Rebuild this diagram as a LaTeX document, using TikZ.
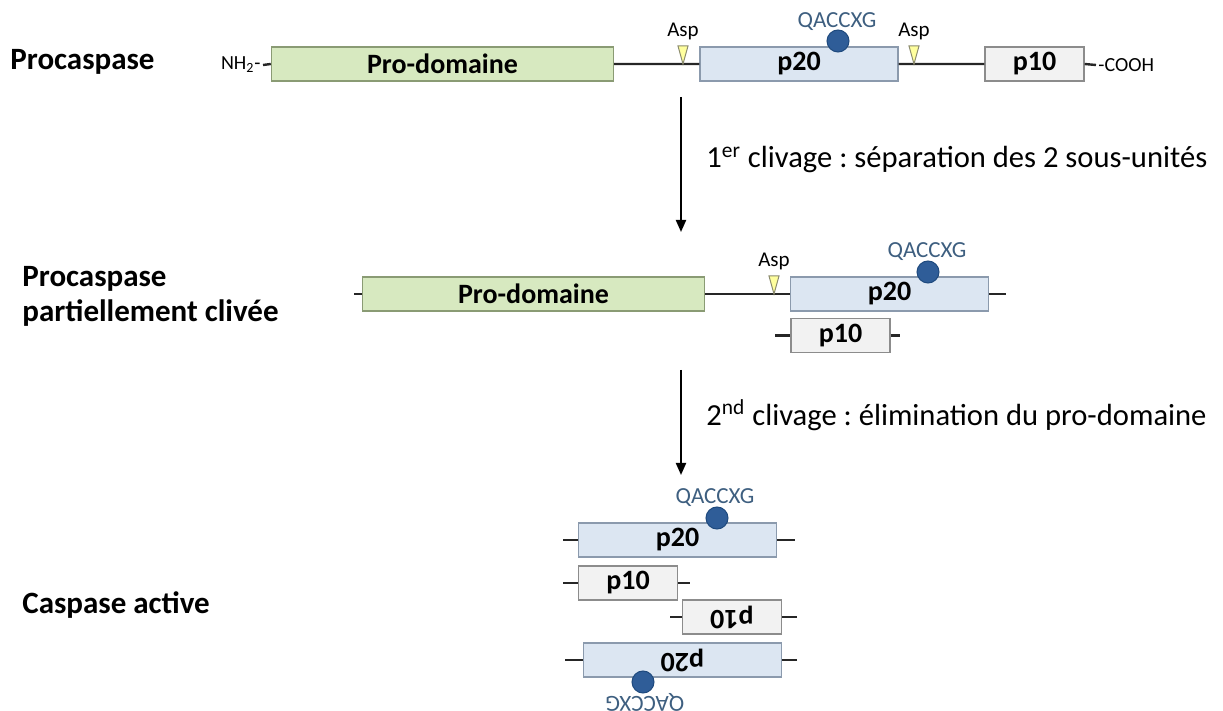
\documentclass[tikz,border=0pt]{standalone}
\usepackage{fontspec}
\setmainfont{Carlito}
\usetikzlibrary{arrows.meta,positioning}
\definecolor{ProGreen}{HTML}{D7E9C0}
\definecolor{ProEdge}{HTML}{8A9B74}
\definecolor{SubBlue}{HTML}{DCE6F2}
\definecolor{SubEdge}{HTML}{8B9AAD}
\definecolor{SubGray}{HTML}{F2F2F2}
\definecolor{GrayEdge}{HTML}{8C8C8C}
\definecolor{SiteBlue}{HTML}{2F5D98}
\definecolor{SiteEdge}{HTML}{1F4A7E}
\definecolor{SiteText}{HTML}{3E5F80}
\definecolor{AspYellow}{HTML}{FFFF9E}
\definecolor{AspEdge}{HTML}{8C8C6E}
\frenchspacing

\begin{document}
\begin{tikzpicture}[x=0.5pt,y=-0.5pt,
  heading/.style={font=\fontsize{15.5}{17.5}\selectfont\bfseries,align=left,inner sep=0pt},
  prodom/.style={draw=ProEdge,fill=ProGreen,line width=0.7pt,minimum width=171pt,minimum height=17pt,inner sep=0pt,font=\fontsize{14}{16}\selectfont\bfseries},
  sub20/.style={draw=SubEdge,fill=SubBlue,line width=0.7pt,minimum width=99pt,minimum height=17pt,inner sep=0pt,font=\fontsize{14}{16}\selectfont\bfseries},
  sub10/.style={draw=GrayEdge,fill=SubGray,line width=0.7pt,minimum width=49.5pt,minimum height=17pt,inner sep=0pt,font=\fontsize{14}{16}\selectfont\bfseries},
  small/.style={font=\fontsize{10}{12}\selectfont,inner sep=1pt},
  asplbl/.style={font=\fontsize{10.5}{12}\selectfont,inner sep=1pt},
  sitelbl/.style={font=\fontsize{11.5}{13}\selectfont,inner sep=1pt,text=SiteText},
  site/.style={circle,draw=SiteEdge,fill=SiteBlue,minimum size=11pt,inner sep=0pt,line width=0.5pt},
  chain/.style={line width=1.2pt,draw=black!85},
  arrow/.style={-{Triangle[length=6pt,width=5pt]},line width=1pt},
  cleave/.style={font=\fontsize{15.3}{17}\selectfont,anchor=west,inner sep=0pt},
  asp/.pic={
    \draw[fill=AspYellow,draw=AspEdge,line width=0.5pt] (-5,-18) -- (5,-18) -- (0,0) -- cycle;
    \node[asplbl] at (0,-33) {Asp};
  },
  dimer/.pic={
    \node[sub20] (-p20) at (-2.5,-60) {p20};
    \node[site] (-site) at (37,-82) {};
    \node[sitelbl] (-lbl) at (35,-102) {QACCXG};
    \node[sub10] (-p10) at (-52,-17) {p10};
    \coordinate (-a) at (-117,-60);
    \coordinate (-b) at (115,-60);
    \coordinate (-c) at (-117,-17);
    \coordinate (-d) at (10,-17);
    \draw[chain] (-a) -- (-p20.west) (-p20.east) -- (-b);
    \draw[chain] (-c) -- (-p10.west) (-p10.east) -- (-d);
  }
]
\useasboundingbox (0,0) rectangle (1223,711);

% procaspase
\node[heading,anchor=base west] (t1) at (10,70) {Procaspase};
\node[small,anchor=east] (nh2) at (263,65) {NH\textsubscript{2}-};
\node[prodom] (pd1) at (442.5,64) {Pro-domaine};
\node[sub20] (p20a) at (799,64) {p20};
\node[sub10] (p10a) at (1034.5,64) {p10};
\node[small,anchor=west] (cooh) at (1096,65) {-COOH};
\draw[chain] (nh2.east) -- (pd1.west) (pd1.east) -- (p20a.west) (p20a.east) -- (p10a.west) (p10a.east) -- (cooh.west);
\pic at (683,64) {asp};
\pic at (914,64) {asp};
\node[site] (s1) at (838,41) {};
\node[sitelbl] (q1) at (837,22) {QACCXG};

% first cleavage
\coordinate (c1a) at (681,97);
\coordinate (c1b) at (681,232);
\draw[arrow] (c1a) -- (c1b);
\node[cleave] (l1) at (706,160) {1\textsuperscript{er} clivage : séparation des 2 sous-unités};

% partially cleaved
\node[heading,anchor=west] (t2) at (22,296) {Procaspase\\partiellement clivée};
\coordinate (e2) at (354,294);
\node[prodom] (pd2) at (533.5,294) {Pro-domaine};
\node[sub20] (p20b) at (889.5,294) {p20};
\coordinate (f2) at (1006,294);
\draw[chain] (e2) -- (pd2.west) (pd2.east) -- (p20b.west) (p20b.east) -- (f2);
\pic at (774,294) {asp};
\node[site] (s2) at (928,272) {};
\node[sitelbl] (q2) at (927,252) {QACCXG};
\node[sub10] (p10b) at (840.5,335.5) {p10};
\coordinate (g2) at (775,335.5);
\coordinate (h2) at (900,335.5);
\draw[chain] (g2) -- (p10b.west) (p10b.east) -- (h2);

% second cleavage
\coordinate (c2a) at (681,370);
\coordinate (c2b) at (681,475);
\draw[arrow] (c2a) -- (c2b);
\node[cleave] (l2) at (706,415) {2\textsuperscript{nd} clivage : élimination du pro-domaine};

% active caspase
\node[heading,anchor=west] (t3) at (22,605) {Caspase active};
\pic (top) at (680,600) {dimer};
\pic[rotate=180,transform shape] (bot) at (680,600) {dimer};
\end{tikzpicture}
\end{document}
